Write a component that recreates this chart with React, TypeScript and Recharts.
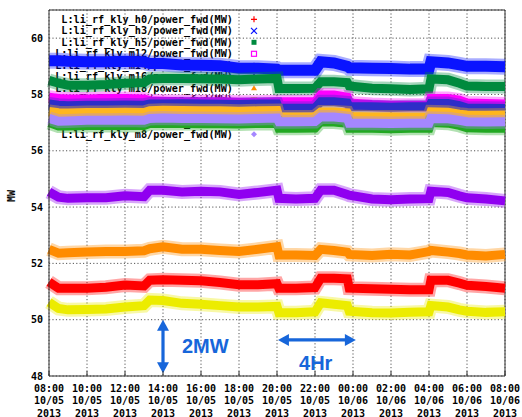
import React from "react";
import {
  LineChart,
  Line,
  XAxis,
  YAxis,
  CartesianGrid,
  Legend,
  ReferenceLine,
  ReferenceDot,
} from "recharts";

// hours after 10/05 08:00
const HOURS = [0, 0.5, 1, 2, 3, 4, 5, 5.3, 6, 7, 8, 9, 10, 11, 12, 12.1, 13, 14, 14.3, 15, 15.7, 15.8, 17, 18, 19, 20, 20.1, 21, 21.6, 22, 23, 24];

const H0 = [51.34, 51.12, 51.12, 51.12, 51.15, 51.23, 51.2, 51.4, 51.42, 51.4, 51.38, 51.32, 51.24, 51.24, 51.28, 51.12, 51.12, 51.14, 51.47, 51.47, 51.45, 51.12, 51.1, 51.08, 51.06, 51.06, 51.4, 51.4, 51.3, 51.22, 51.18, 51.12];
const H3 = [59.2, 59.2, 59.18, 59.16, 59.16, 59.18, 59.16, 59.1, 59.1, 59.05, 59.04, 59.02, 58.93, 58.93, 58.9, 58.86, 58.86, 58.86, 59.16, 59.12, 59.0, 58.95, 58.93, 58.92, 58.9, 58.9, 59.16, 59.12, 59.05, 59.0, 59.0, 58.98];
const H5 = [58.5, 58.4, 58.33, 58.33, 58.35, 58.4, 58.42, 58.55, 58.57, 58.57, 58.56, 58.55, 58.52, 58.55, 58.57, 58.21, 58.21, 58.22, 58.45, 58.45, 58.42, 58.3, 58.22, 58.2, 58.18, 58.2, 58.55, 58.52, 58.4, 58.3, 58.28, 58.28];
const M12 = [57.9, 57.86, 57.84, 57.84, 57.86, 57.86, 57.84, 57.78, 57.76, 57.74, 57.74, 57.74, 57.72, 57.72, 57.74, 57.74, 57.74, 57.74, 57.98, 57.98, 57.9, 57.7, 57.64, 57.62, 57.62, 57.62, 57.86, 57.86, 57.8, 57.7, 57.68, 57.66];
const M14 = [57.66, 57.62, 57.6, 57.62, 57.62, 57.63, 57.62, 57.66, 57.66, 57.67, 57.66, 57.65, 57.64, 57.66, 57.66, 57.51, 57.51, 57.52, 57.74, 57.74, 57.7, 57.56, 57.56, 57.55, 57.56, 57.56, 57.68, 57.68, 57.6, 57.52, 57.51, 57.5];
const M16 = [54.54, 54.35, 54.31, 54.33, 54.33, 54.4, 54.37, 54.6, 54.6, 54.54, 54.56, 54.54, 54.45, 54.52, 54.6, 54.31, 54.29, 54.31, 54.6, 54.6, 54.45, 54.42, 54.29, 54.26, 54.29, 54.3, 54.56, 54.52, 54.4, 54.33, 54.29, 54.22];
const M18 = [52.5, 52.36, 52.38, 52.4, 52.42, 52.42, 52.45, 52.52, 52.59, 52.5, 52.5, 52.46, 52.42, 52.5, 52.59, 52.3, 52.3, 52.28, 52.5, 52.46, 52.4, 52.32, 52.28, 52.32, 52.3, 52.42, 52.46, 52.4, 52.35, 52.3, 52.26, 52.32];
const M2 = [50.62, 50.4, 50.35, 50.36, 50.38, 50.45, 50.5, 50.7, 50.68, 50.58, 50.55, 50.5, 50.45, 50.45, 50.47, 50.25, 50.25, 50.28, 50.6, 50.55, 50.5, 50.3, 50.25, 50.24, 50.26, 50.28, 50.5, 50.45, 50.35, 50.3, 50.26, 50.28];
const M4 = [57.4, 57.35, 57.34, 57.36, 57.36, 57.37, 57.36, 57.42, 57.44, 57.43, 57.42, 57.42, 57.4, 57.42, 57.43, 57.2, 57.2, 57.21, 57.38, 57.38, 57.35, 57.22, 57.2, 57.2, 57.19, 57.2, 57.38, 57.37, 57.3, 57.27, 57.26, 57.27];
const M6 = [57.0, 56.88, 56.88, 56.9, 56.9, 56.91, 56.9, 56.97, 56.98, 56.97, 56.96, 56.96, 56.95, 56.97, 56.98, 56.8, 56.8, 56.81, 57.03, 57.02, 56.98, 56.8, 56.8, 56.78, 56.8, 56.8, 57.0, 56.98, 56.9, 56.82, 56.8, 56.8];
const M8 = [57.15, 57.05, 57.06, 57.08, 57.08, 57.09, 57.08, 57.15, 57.16, 57.15, 57.15, 57.14, 57.13, 57.15, 57.16, 57.03, 57.03, 57.04, 57.2, 57.2, 57.15, 56.98, 56.98, 56.97, 56.98, 56.98, 57.15, 57.14, 57.08, 57.03, 57.02, 57.03];

const X_TICKS = [0, 2, 4, 6, 8, 10, 12, 14, 16, 18, 20, 22, 24];
const Y_TICKS = [48, 50, 52, 54, 56, 58, 60];

const SERIES = [
  { key: "h0", name: "L:li_rf_kly_h0/power_fwd(MW)", values: H0, color: "#ff0000", sym: "plus" },
  { key: "h3", name: "L:li_rf_kly_h3/power_fwd(MW)", values: H3, color: "#0a14ff", sym: "cross" },
  { key: "h5", name: "L:li_rf_kly_h5/power_fwd(MW)", values: H5, color: "#008a3e", sym: "fsquare" },
  { key: "m12", name: "L:li_rf_kly_m12/power_fwd(MW)", values: M12, color: "#ff00ff", sym: "osquare" },
  { key: "m14", name: "L:li_rf_kly_m14/power_fwd(MW)", values: M14, color: "#2d2dc8", sym: "fcircle" },
  { key: "m16", name: "L:li_rf_kly_m16/power_fwd(MW)", values: M16, color: "#9000f0", sym: "otri" },
  { key: "m18", name: "L:li_rf_kly_m18/power_fwd(MW)", values: M18, color: "#ff8c00", sym: "ftri" },
  { key: "m2", name: "L:li_rf_kly_m2/power_fwd(MW)", values: M2, color: "#ecec00", sym: "oitri" },
  { key: "m4", name: "L:li_rf_kly_m4/power_fwd(MW)", values: M4, color: "#ffb61e", sym: "fitri" },
  { key: "m6", name: "L:li_rf_kly_m6/power_fwd(MW)", values: M6, color: "#22a822", sym: "odiamond" },
  { key: "m8", name: "L:li_rf_kly_m8/power_fwd(MW)", values: M8, color: "#a587ff", sym: "fdiamond" },
];

const data = HOURS.map((t, i) => {
  const row: Record<string, number> = { t };
  SERIES.forEach((s) => (row[s.key] = s.values[i]));
  return row;
});

const MONO = "'DejaVu Sans Mono', monospace";
const ANNO = "#1766da";

const timeLabel = (h: number) => {
  const hour = 8 + h;
  const hh = String(hour % 24).padStart(2, "0");
  return [`${hh}:00`, hour >= 24 ? "10/06" : "10/05", "2013"];
};

const TimeTick = (props: any) => {
  const { x, y, payload } = props;
  const lines = timeLabel(payload.value);
  return (
    <g>
      <line x1={x} x2={x} y1={y} y2={y - 5} stroke="#333" />
      <text textAnchor="middle" fontFamily={MONO} fontWeight="bold" fontSize={10} fill="#000">
        <tspan x={x} y={y + 15.5}>{lines[0]}</tspan>
        <tspan x={x} y={y + 28}>{lines[1]}</tspan>
        <tspan x={x} y={y + 40.5}>{lines[2]}</tspan>
      </text>
    </g>
  );
};

const Symbol = ({ kind, color, x, y }: { kind: string; color: string; x: number; y: number }) => {
  const s = 3;
  switch (kind) {
    case "plus":
      return <path d={`M${x - s} ${y}H${x + s}M${x} ${y - s}V${y + s}`} stroke={color} strokeWidth={1.2} />;
    case "cross":
      return <path d={`M${x - s} ${y - s}L${x + s} ${y + s}M${x + s} ${y - s}L${x - s} ${y + s}`} stroke={color} strokeWidth={1.2} />;
    case "fsquare":
      return <rect x={x - 2.5} y={y - 2.5} width={5} height={5} fill={color} />;
    case "osquare":
      return <rect x={x - 2.5} y={y - 2.5} width={5} height={5} fill="none" stroke={color} strokeWidth={1.2} />;
    case "fcircle":
      return <circle cx={x} cy={y} r={2.5} fill={color} />;
    case "otri":
      return <path d={`M${x} ${y - 3}L${x + 3} ${y + 2}L${x - 3} ${y + 2}Z`} fill="none" stroke={color} />;
    case "ftri":
      return <path d={`M${x} ${y - 3}L${x + 3} ${y + 2}L${x - 3} ${y + 2}Z`} fill={color} />;
    case "oitri":
      return <path d={`M${x} ${y + 3}L${x + 3} ${y - 2}L${x - 3} ${y - 2}Z`} fill="none" stroke={color} />;
    case "fitri":
      return <path d={`M${x} ${y + 3}L${x + 3} ${y - 2}L${x - 3} ${y - 2}Z`} fill={color} />;
    case "odiamond":
      return <path d={`M${x} ${y - 3}L${x + 3} ${y}L${x} ${y + 3}L${x - 3} ${y}Z`} fill="none" stroke={color} />;
    default:
      return <path d={`M${x} ${y - 3}L${x + 3} ${y}L${x} ${y + 3}L${x - 3} ${y}Z`} fill={color} />;
  }
};

const KeyBox = () => (
  <svg width={270} height={145}>
    {SERIES.map((s, i) => {
      const cy = 19.3 + i * 11.5;
      return (
        <g key={s.key}>
          <text x={233} y={cy + 3.6} textAnchor="end" fontFamily={MONO} fontWeight="bold" fontSize={10.2} fill="#000">
            {s.name}
          </text>
          <Symbol kind={s.sym} color={s.color} x={254} y={cy} />
        </g>
      );
    })}
  </svg>
);

const arrowShape = (props: any) => {
  const { x1, y1, x2, y2 } = props;
  const dx = x2 - x1;
  const dy = y2 - y1;
  const len = Math.hypot(dx, dy) || 1;
  const ux = dx / len;
  const uy = dy / len;
  const head = 11;
  const half = 6;
  const tri = (tx: number, ty: number, dirx: number, diry: number) => {
    const bx = tx - dirx * head;
    const by = ty - diry * head;
    return `${tx},${ty} ${bx - diry * half},${by + dirx * half} ${bx + diry * half},${by - dirx * half}`;
  };
  return (
    <g>
      <line
        x1={x1 + ux * (head - 1)}
        y1={y1 + uy * (head - 1)}
        x2={x2 - ux * (head - 1)}
        y2={y2 - uy * (head - 1)}
        stroke={ANNO}
        strokeWidth={3.2}
      />
      <polygon points={tri(x2, y2, ux, uy)} fill={ANNO} />
      <polygon points={tri(x1, y1, -ux, -uy)} fill={ANNO} />
    </g>
  );
};

const annoText = (label: string) => (props: any) => (
  <text x={props.cx} y={props.cy} fontFamily="'Liberation Sans', Arial, sans-serif" fontWeight="bold" fontSize={20} fill={ANNO}>
    {label}
  </text>
);

export default function App() {
  return (
    <div style={{ position: "absolute", left: 0, top: 0, background: "transparent" }}>
      <LineChart width={522} height={417} data={data} margin={{ top: 10, right: 17, left: 0, bottom: 0 }}>
        <CartesianGrid stroke="#555" strokeDasharray="1.2 2.2" />
        <XAxis
          dataKey="t"
          type="number"
          domain={[0, 24]}
          ticks={X_TICKS}
          interval={0}
          height={41}
          tickSize={0}
          tickMargin={0}
          tick={<TimeTick />}
          axisLine={{ stroke: "#333" }}
        />
        <YAxis
          type="number"
          domain={[48, 61]}
          ticks={Y_TICKS}
          interval={0}
          width={49}
          tickSize={6}
          tickMargin={0}
          tickLine={false}
          axisLine={{ stroke: "#333" }}
          tick={{ fontFamily: MONO, fontWeight: "bold", fontSize: 10, fill: "#000" }}
          label={{
            content: () => (
              <text x={15} y={196} transform="rotate(-90 15 196)" textAnchor="middle" fontFamily={MONO} fontWeight="bold" fontSize={10} fill="#000">
                MW
              </text>
            ),
          }}
        />
        <ReferenceLine y={61} stroke="#333" />
        <ReferenceLine x={24} stroke="#333" />
        <Legend
          layout="vertical"
          align="center"
          verticalAlign="middle"
          wrapperStyle={{ left: 0, top: 0, width: 270, height: 145, zIndex: -1 }}
          content={() => <KeyBox />}
        />
        {SERIES.map((s) => {
          const core = s.key === "h3" ? 11 : 9;
          return [
            <Line
              key={`${s.key}-halo`}
              type="linear"
              dataKey={s.key}
              legendType="none"
              stroke={s.color}
              strokeOpacity={0.35}
              strokeWidth={core + 5}
              dot={false}
              isAnimationActive={false}
            />,
            <Line
              key={s.key}
              type="linear"
              dataKey={s.key}
              name={s.name}
              stroke={s.color}
              strokeWidth={core}
              dot={false}
              isAnimationActive={false}
            />,
          ];
        })}
        <ReferenceLine segment={[{ x: 6, y: 50 }, { x: 6, y: 48.1 }]} shape={arrowShape} />
        <ReferenceLine segment={[{ x: 12.05, y: 49.28 }, { x: 16.15, y: 49.28 }]} shape={arrowShape} />
        <ReferenceDot x={7.0} y={48.82} r={0} shape={annoText("2MW")} />
        <ReferenceDot x={13.16} y={48.21} r={0} shape={annoText("4Hr")} />
      </LineChart>
    </div>
  );
}
